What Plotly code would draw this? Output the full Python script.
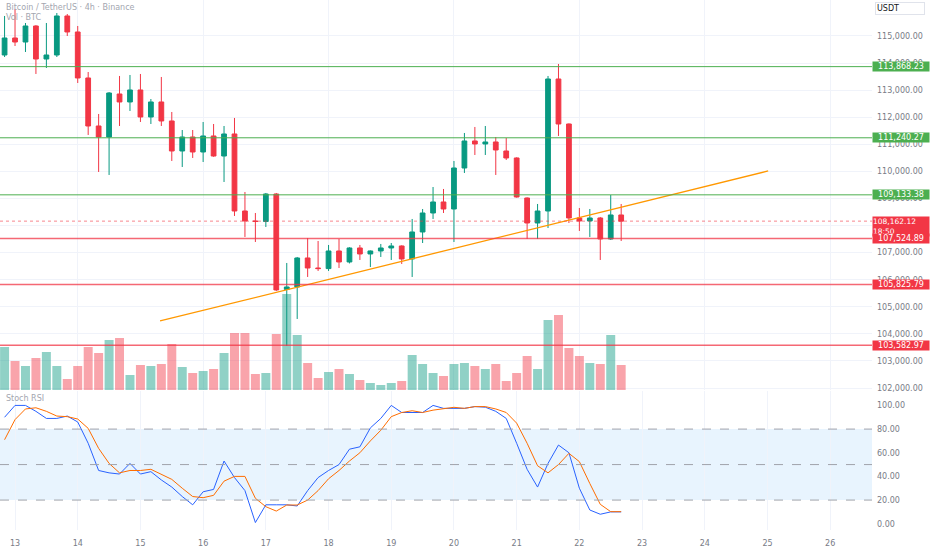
import pandas as pd
import plotly.graph_objects as go

# 4h candles, BTC/USDT (Binance)
times = pd.date_range("2025-08-12 20:00", periods=60, freq="4h")

opens = [114298, 114926, 114778, 115369, 114150, 114298, 115739, 115148, 113449, 111676,
         111270, 112858, 112563, 113006, 112009, 112563, 111861, 110753, 111270, 110716,
         111307, 110568, 111381, 108537, 108168, 108150, 109165, 105640, 105731, 106802,
         106432, 106410, 107060, 106654, 107171, 106950, 107060, 107171, 107245, 106765,
         107762, 108463, 108870, 108611, 110125, 111123, 111012, 111086, 110753, 110495,
         109017, 108094, 108537, 113412, 111750, 108279, 108168, 108279, 107503, 108390]
highs = [115739, 116000, 115480, 115400, 115480, 115849, 115812, 115369, 113670, 112120,
         112930, 113523, 113560, 113597, 112673, 113486, 112193, 111528, 111528, 111824,
         111750, 111676, 111972, 109239, 108463, 109202, 109202, 106617, 106839, 107540,
         107429, 107282, 107503, 107200, 107282, 107080, 107319, 107355, 107270, 108242,
         108611, 109423, 109350, 110384, 111418, 111640, 111676, 111270, 111233, 110520,
         109040, 108796, 113523, 113966, 111770, 108648, 108611, 108316, 109128, 108796]
lows = [114224, 114630, 114409, 113597, 113818, 114224, 115000, 113264, 111344, 109978,
        109867, 111676, 112230, 111824, 111750, 111676, 110384, 110162, 110495, 110347,
        110540, 109608, 108353, 107577, 107392, 107946, 105583, 103552, 104549, 106100,
        106322, 106322, 106432, 106600, 106728, 106469, 106839, 106728, 106580, 106100,
        107355, 108242, 108463, 107392, 109941, 110605, 110605, 109867, 110421, 109030,
        107503, 107503, 107909, 111307, 108094, 107799, 107577, 106728, 107466, 107429]
closes = [114926, 114778, 115369, 114150, 114298, 115739, 115148, 113449, 111676, 111270,
          112895, 112563, 113006, 112009, 112563, 111861, 110753, 111270, 110716, 111307,
          110568, 111381, 108537, 108168, 108150, 109165, 105620, 105731, 106802, 106432,
          106410, 107060, 106654, 107171, 106950, 107060, 107171, 107245, 106765, 107762,
          108463, 108870, 108611, 110125, 111123, 111012, 111086, 110790, 110495, 109054,
          108094, 108537, 113412, 111750, 108279, 108168, 108279, 107503, 108390, 108162.12]
volume = [1505, 1015, 840, 1120, 1330, 840, 385, 840, 1505, 1295,
          1750, 1820, 525, 875, 840, 910, 1610, 805, 595, 665,
          735, 1295, 1995, 1995, 560, 595, 1960, 3360, 1925, 945,
          420, 630, 735, 560, 350, 245, 175, 245, 315, 1225,
          910, 595, 490, 910, 945, 840, 735, 910, 315, 595,
          1190, 735, 2450, 2625, 1470, 1190, 945, 910, 1925, 875]

stoch_k = [90, 100, 100, 95, 89, 89, 91, 86, 68, 45,
           43, 42, 51, 42, 44, 37, 31, 23, 16, 27,
           29, 53, 39, 28, 1, 16, 16, 16, 15, 28,
           39, 45, 50, 63, 65, 81, 89, 100, 94, 94,
           94, 100, 97.5, 97.5, 97.5, 99, 98.5, 95, 89, 68,
           46, 31, 51, 66.5, 60, 30, 11.6, 8, 10, 10]
stoch_d = [71, 88, 97, 98, 95, 91, 90.5, 88.5, 80.6, 63.7,
           51, 43, 45, 45, 46, 42, 37.5, 30, 23, 22,
           24, 36, 40, 40, 21.5, 14.4, 10.7, 15.8, 15.8, 20,
           28, 38, 45, 53, 60, 70, 79, 90.5, 94, 95.5,
           94, 96, 97.5, 98.4, 97.5, 99, 99, 97, 94, 85,
           68, 49, 43, 50, 59.5, 52.5, 34, 16.4, 10.2, 10.2]

green_levels = [113868.23, 111240.27, 109133.38]
red_levels = [107524.89, 105825.79, 103582.97]
last_price = 108162.12
countdown = "18:50"
trend_times = ["2025-08-15 07:30", "2025-08-25 00:15"]
trend_prices = [104475, 110015]
price_ticks = list(range(102000, 116000, 1000))
stoch_ticks = [0, 20, 40, 60, 80, 100]

UP = "#089981"
DOWN = "#f23645"
GRID = "#f0f3fa"
TXT = "#787b86"

vol_colors = ["rgba(8,153,129,0.45)" if c >= o else "rgba(242,54,69,0.45)"
              for o, c in zip(opens, closes)]

fig = go.Figure()
fig.add_trace(go.Bar(x=times, y=volume, marker=dict(color=vol_colors, line=dict(width=0)),
                     xaxis="x2", yaxis="y", hoverinfo="skip"))
fig.add_trace(go.Candlestick(
    x=times, open=opens, high=highs, low=lows, close=closes,
    increasing=dict(line=dict(color=UP, width=1), fillcolor=UP),
    decreasing=dict(line=dict(color=DOWN, width=1), fillcolor=DOWN),
    whiskerwidth=0, xaxis="x2", yaxis="y2"))
fig.add_trace(go.Scatter(x=trend_times, y=trend_prices, mode="lines",
                         line=dict(color="#ff9800", width=1.3), xaxis="x2", yaxis="y2"))
fig.add_trace(go.Scatter(x=times, y=stoch_k, mode="lines", line=dict(color="#2962ff", width=1),
                         xaxis="x", yaxis="y3"))
fig.add_trace(go.Scatter(x=times, y=stoch_d, mode="lines", line=dict(color="#ff6d00", width=1),
                         xaxis="x", yaxis="y3"))

shapes = []
for lv in green_levels:
    shapes.append(dict(type="line", xref="paper", x0=0, x1=1, yref="y2", y0=lv, y1=lv,
                       line=dict(color="#4caf50", width=1)))
for lv in red_levels:
    shapes.append(dict(type="line", xref="paper", x0=0, x1=1, yref="y2", y0=lv, y1=lv,
                       line=dict(color="rgba(242,54,69,0.75)", width=1.5)))
shapes.append(dict(type="line", xref="paper", x0=0, x1=1, yref="y2", y0=last_price, y1=last_price,
                   line=dict(color="rgba(242,54,69,0.6)", width=1, dash="dot")))
# stoch bands
shapes.append(dict(type="rect", xref="paper", x0=0, x1=1, yref="y3", y0=20, y1=80,
                   fillcolor="rgba(33,150,243,0.1)", line=dict(width=0), layer="below"))
for lv in [80, 50, 20]:
    shapes.append(dict(type="line", xref="paper", x0=0, x1=1, yref="y3", y0=lv, y1=lv,
                       line=dict(color="#a0a3ab", width=1, dash="dash")))

annotations = []
annotations.append(dict(x=1, xref="paper", xanchor="left", y=last_price, yref="y2",
                        yanchor="top", yshift=5, text=f"{last_price:,.2f}<br>{countdown}",
                        align="left", showarrow=False, bgcolor=DOWN, width=56, borderpad=0,
                        font=dict(color="white", size=7.5)))
for lv, col in [(v, "#4caf50") for v in green_levels] + [(v, DOWN) for v in red_levels]:
    annotations.append(dict(x=1, xref="paper", xanchor="left", y=lv, yref="y2",
                            text=f"{lv:,.2f}", showarrow=False, bgcolor=col, width=56,
                            borderpad=0, font=dict(color="white", size=8)))
annotations.append(dict(x=1, xref="paper", xanchor="left", xshift=3, y=1, yref="paper",
                        yanchor="top", yshift=-2, text="USDT", align="left", width=46,
                        showarrow=False, bgcolor="white", bordercolor="#e0e3eb", borderwidth=1,
                        borderpad=1, font=dict(color="#131722", size=8)))
annotations.append(dict(x=0, xref="paper", xanchor="left", xshift=4, y=1, yref="paper",
                        yanchor="top", yshift=-1, text="Bitcoin / TetherUS · 4h · Binance",
                        showarrow=False, font=dict(color="#a3a6af", size=8)))
annotations.append(dict(x=0, xref="paper", xanchor="left", xshift=4, y=1, yref="paper",
                        yanchor="top", yshift=-11, text="Vol · BTC",
                        showarrow=False, font=dict(color="#a3a6af", size=8)))
annotations.append(dict(x=0, xref="paper", xanchor="left", xshift=4, y=0.2623, yref="paper",
                        yanchor="top", yshift=-1, text="Stoch RSI",
                        showarrow=False, font=dict(color="#a3a6af", size=8)))

fig.update_layout(
    width=932, height=550,
    margin=dict(l=0, r=60, t=0, b=20),
    paper_bgcolor="white", plot_bgcolor="white",
    showlegend=False, bargap=0.14, boxgap=0.35,
    font=dict(family="DejaVu Sans", size=8, color=TXT),
    xaxis=dict(type="date", domain=[0, 1], anchor="y3",
               range=["2025-08-12 18:15", "2025-08-26 16:00"],
               tickformat="%d", dtick=86400000, tick0="2025-08-13",
               showgrid=True, gridcolor=GRID, zeroline=False, ticks="",
               ticklabelstandoff=7, rangeslider=dict(visible=False)),
    xaxis2=dict(type="date", matches="x", anchor="y", showticklabels=False,
                showgrid=True, gridcolor=GRID, zeroline=False,
                rangeslider=dict(visible=False)),
    yaxis=dict(domain=[0.2642, 1], anchor="x2", range=[0, 13650], visible=False),
    yaxis2=dict(overlaying="y", anchor="x2", side="right", range=[101927, 116329],
                tickvals=price_ticks, tickformat=",.2f", showgrid=True, gridcolor=GRID,
                zeroline=False, ticks="", ticklabelstandoff=4),
    yaxis3=dict(domain=[0, 0.2623], anchor="x", side="right", range=[-5.3, 112.2],
                tickvals=stoch_ticks, tickformat=".2f", showgrid=False,
                zeroline=False, ticks="", ticklabelstandoff=4),
    shapes=shapes, annotations=annotations,
)

# page body margin off so the figure sits at the window's corner
fig.write_html("out.html", config={"displayModeBar": False},
               post_script="document.body.style.margin='0px';")
